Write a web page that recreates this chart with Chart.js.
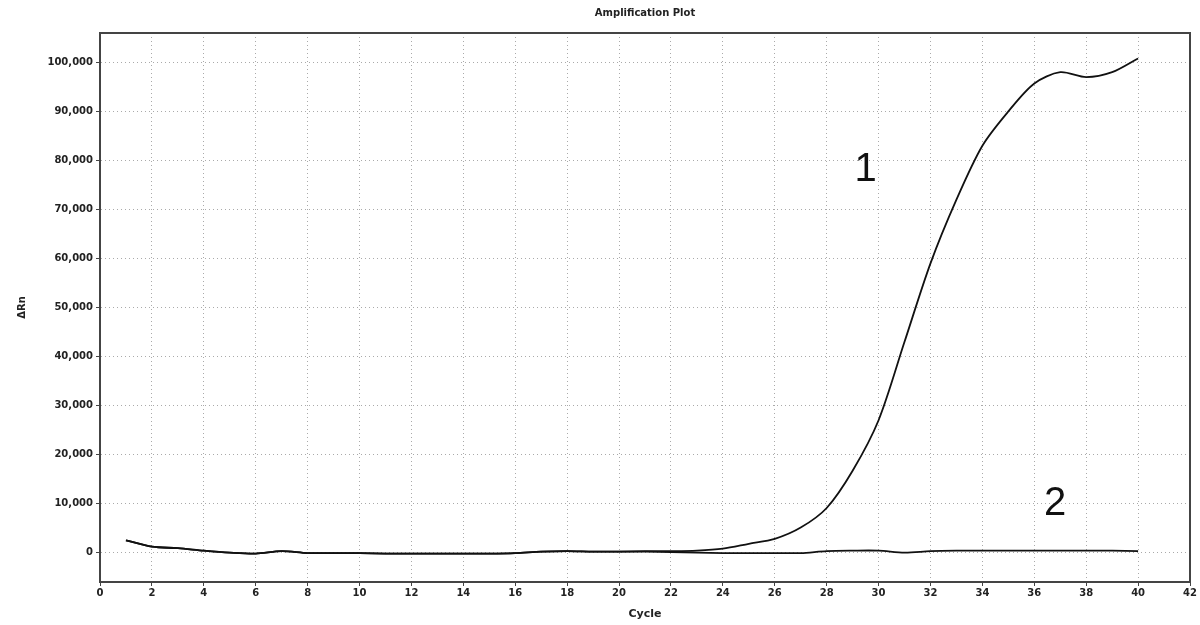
<!DOCTYPE html>
<html>
<head>
<meta charset="utf-8">
<script src="https://cdn.jsdelivr.net/npm/chart.js@4.4.1/dist/chart.umd.min.js"></script>
<style>
  html, body { margin: 0; padding: 0; background: #fff; }
  #wrap { width: 1200px; height: 625px; }
</style>
</head>
<body>
<div id="wrap"><canvas id="plot"></canvas></div>
<script>
const cycles = [1, 2, 3, 4, 5, 6, 7, 8, 9, 10, 11, 12, 13, 14, 15, 16, 17, 18, 19, 20,
  21, 22, 23, 24, 25, 26, 27, 28, 29, 30, 31, 32, 33, 34, 35, 36, 37, 38, 39, 40];

const sample1 = [2500, 1200, 900, 400, 0, -200, 300, -100, -100, -100,
  -200, -200, -200, -200, -200, -100, 200, 300, 200, 200,
  300, 300, 400, 800, 1800, 2800, 5100, 9100, 16700, 27000,
  43000, 59000, 72000, 83000, 90000, 95700, 98000, 97000, 98000, 100800];

const sample2 = [2500, 1200, 900, 400, 0, -200, 300, -100, -100, -100,
  -200, -200, -200, -200, -200, -100, 200, 300, 200, 200,
  200, 100, 0, -100, -100, -100, -100, 300, 400, 400,
  0, 300, 400, 400, 400, 400, 400, 400, 400, 300];

const xTicks = [0, 2, 4, 6, 8, 10, 12, 14, 16, 18, 20, 22, 24, 26, 28, 30, 32, 34, 36, 38, 40, 42];
const yTicks = [0, 10000, 20000, 30000, 40000, 50000, 60000, 70000, 80000, 90000, 100000];

const labels = [
  { text: "1", x: 29.5, y: 78000 },
  { text: "2", x: 36.8, y: 10000 },
];

const toPoints = (vals) => cycles.map((c, i) => ({ x: c, y: vals[i] }));

const font = { family: "DejaVu Sans", size: 10, weight: "bold" };
const gridOpts = { color: "#aaa", tickLength: 4, tickColor: "#444" };
const borderOpts = { display: true, color: "#444", width: 2, dash: [1, 3] };

// frame, title and curve numbers
const extras = {
  id: "extras",
  afterDraw(chart) {
    const { ctx, chartArea: a, scales } = chart;
    ctx.save();
    ctx.setLineDash([]);
    ctx.strokeStyle = "#444";
    ctx.lineWidth = 2;
    ctx.strokeRect(a.left, a.top, a.right - a.left, a.bottom - a.top);

    ctx.fillStyle = "#222";
    ctx.font = "bold 10px 'DejaVu Sans'";
    ctx.textAlign = "center";
    ctx.textBaseline = "middle";
    ctx.fillText("Amplification Plot", (a.left + a.right) / 2, 13);

    ctx.font = "40px 'Liberation Sans'";
    ctx.fillStyle = "#111";
    labels.forEach((l) => {
      ctx.fillText(l.text, scales.x.getPixelForValue(l.x), scales.y.getPixelForValue(l.y));
    });
    ctx.restore();
  },
};

new Chart(document.getElementById("plot"), {
  type: "line",
  data: {
    datasets: [
      { data: toPoints(sample1), borderColor: "#111", borderWidth: 1.8, pointRadius: 0, tension: 0.3 },
      { data: toPoints(sample2), borderColor: "#111", borderWidth: 1.8, pointRadius: 0, tension: 0.3 },
    ],
  },
  options: {
    responsive: true,
    maintainAspectRatio: false,
    animation: false,
    layout: { padding: { top: 33, right: 10, left: 12, bottom: 0 } },
    plugins: { legend: { display: false }, title: { display: false }, tooltip: { enabled: false } },
    scales: {
      x: {
        type: "linear",
        min: 0,
        max: 42,
        afterBuildTicks: (axis) => { axis.ticks = xTicks.map((v) => ({ value: v })); },
        afterFit: (axis) => { axis.height = 43; },
        ticks: { font: font, color: "#222", maxRotation: 0, autoSkip: false, padding: 1 },
        grid: gridOpts,
        border: borderOpts,
        title: { display: true, text: "Cycle", font: { family: "DejaVu Sans", size: 11, weight: "bold" }, color: "#222", padding: { top: 3 } },
      },
      y: {
        min: -6000,
        max: 106000,
        afterBuildTicks: (axis) => { axis.ticks = yTicks.map((v) => ({ value: v })); },
        afterFit: (axis) => { axis.width = 88; },
        ticks: {
          font: font,
          color: "#222",
          padding: 3,
          callback: (v) => v.toLocaleString("en-US"),
        },
        grid: gridOpts,
        border: borderOpts,
        title: { display: true, text: "ΔRn", font: { family: "DejaVu Sans", size: 10, weight: "bold" }, color: "#222", padding: { bottom: 0 } },
      },
    },
  },
  plugins: [extras],
});
</script>
</body>
</html>
